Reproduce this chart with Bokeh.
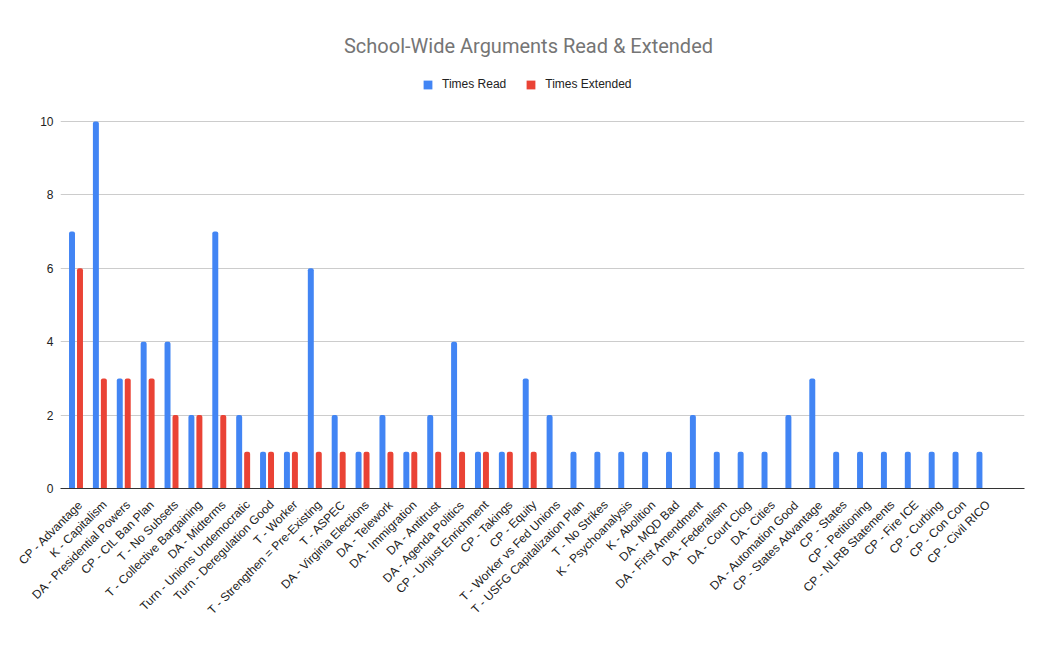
import numpy as np
from bokeh.plotting import figure
from bokeh.models import Range1d, FixedTicker, Label, Legend, LegendItem
from bokeh.embed import file_html
from bokeh.resources import INLINE

categories = [
    "CP - Advantage", "K - Capitalism", "DA - Presidential Powers", "CP - CIL Ban Plan",
    "T - No Subsets", "T - Collective Bargaining", "DA - Midterms", "Turn - Unions Undemocratic",
    "Turn - Deregulation Good", "T - Worker", "T - Strengthen = Pre-Existing", "T - ASPEC",
    "DA - Virginia Elections", "DA - Telework", "DA - Immigration", "DA - Antitrust",
    "DA - Agenda Politics", "CP - Unjust Enrichment", "CP - Takings", "CP - Equity",
    "T - Worker vs Fed Unions", "T - USFG Capitalization Plan", "T - No Strikes",
    "K - Psychoanalysis", "K - Abolition", "DA - MQD Bad", "DA - First Amendment",
    "DA - Federalism", "DA - Court Clog", "DA - Cities", "DA - Automation Good",
    "CP - States Advantage", "CP - States", "CP - Petitioning", "CP - NLRB Statements",
    "CP - Fire ICE", "CP - Curbing", "CP - Con Con", "CP - Civil RICO",
]
times_read = [7, 10, 3, 4, 4, 2, 7, 2, 1, 1, 6, 2, 1, 2, 1, 2, 4, 1, 1, 3,
              2, 1, 1, 1, 1, 1, 2, 1, 1, 1, 2, 3, 1, 1, 1, 1, 1, 1, 1]
times_extended = [6, 3, 3, 3, 2, 2, 2, 1, 1, 1, 1, 1, 1, 1, 1, 1, 1, 1, 1, 1,
                  0, 0, 0, 0, 0, 0, 0, 0, 0, 0, 0, 0, 0, 0, 0, 0, 0, 0, 0]
y_ticks = [0, 2, 4, 6, 8, 10]

BLUE = "#4285F4"
RED = "#EA4335"
LABEL_FONT = "Liberation Sans"

n = len(categories)
idx = np.arange(n)

# layout (pixels)
W, H = 1040, 637
FL, FR, FB = 60, 1024, 488        # frame left / right / bottom (y=0 line)
Y10 = 121                          # pixel row of value 10
px_per_unit_y = (FB - Y10) / 10.0
y_top = FB / px_per_unit_y         # frame reaches the top of the canvas

x_start, x_end = -0.649, n + 0.72
px_per_unit_x = (FR - FL) / (x_end - x_start)

def px_to_x(px):
    return x_start + (px - FL) / px_per_unit_x

def py_to_y(py):
    return (FB - py) / px_per_unit_y

p = figure(width=W, height=H, output_backend="svg", toolbar_location=None,
           title=None,
           x_range=Range1d(x_start, x_end), y_range=Range1d(0, y_top),
           min_border=0, min_border_left=FL, min_border_right=W - FR,
           min_border_top=0, min_border_bottom=H - FB)
p.outline_line_color = None
p.background_fill_color = "white"
p.border_fill_color = "white"

r1 = p.vbar(x=idx - 0.167, top=times_read, width=0.25, fill_color=BLUE,
            line_color=None, border_radius=(2, 2, 0, 0))
r2 = p.vbar(x=idx + 0.167, top=times_extended, width=0.25, fill_color=RED,
            line_color=None, border_radius=(2, 2, 0, 0))

# axes
p.xgrid.grid_line_color = None
p.ygrid.grid_line_color = "#cccccc"
p.ygrid.ticker = FixedTicker(ticks=y_ticks)

label_shift = 0.2
tick_pos = [float(i) + label_shift for i in range(n)]
xa = p.xaxis[0]
xa.ticker = FixedTicker(ticks=tick_pos)
xa.major_label_overrides = {t: c for t, c in zip(tick_pos, categories)}
xa.major_label_orientation = np.pi / 4
xa.major_tick_line_color = None
xa.minor_tick_line_color = None
xa.major_tick_out = 0
xa.major_tick_in = 0
xa.minor_tick_out = 0
xa.axis_line_color = "#333333"
xa.major_label_text_font = LABEL_FONT
xa.major_label_text_font_size = "12px"
xa.major_label_text_color = "#222222"
xa.major_label_standoff = 14

ya = p.yaxis[0]
ya.ticker = FixedTicker(ticks=y_ticks)
ya.axis_line_color = None
ya.major_tick_line_color = None
ya.minor_tick_line_color = None
ya.major_tick_out = 0
ya.major_tick_in = 0
ya.minor_tick_out = 0
ya.major_label_text_font = LABEL_FONT
ya.major_label_text_font_size = "12px"
ya.major_label_text_color = "#222222"
ya.major_label_standoff = 7

# title
title = Label(x=px_to_x(528), y=py_to_y(45),
              text="School-Wide Arguments Read & Extended",
              text_align="center", text_baseline="middle",
              text_font="Roboto", text_font_size="20px", text_color="#757575")
p.add_layout(title)

legend = Legend(items=[LegendItem(label="Times Read", renderers=[r1]),
                       LegendItem(label="Times Extended", renderers=[r2])],
                orientation="horizontal", location=(362, 397),
                padding=0, margin=0, spacing=19, label_standoff=9,
                glyph_width=11, glyph_height=11, label_height=11,
                border_line_color=None, background_fill_alpha=0,
                label_text_font=LABEL_FONT, label_text_font_size="12px",
                label_text_color="#222222")
p.add_layout(legend, "center")

open("out.html", "w").write(file_html(p, INLINE))
